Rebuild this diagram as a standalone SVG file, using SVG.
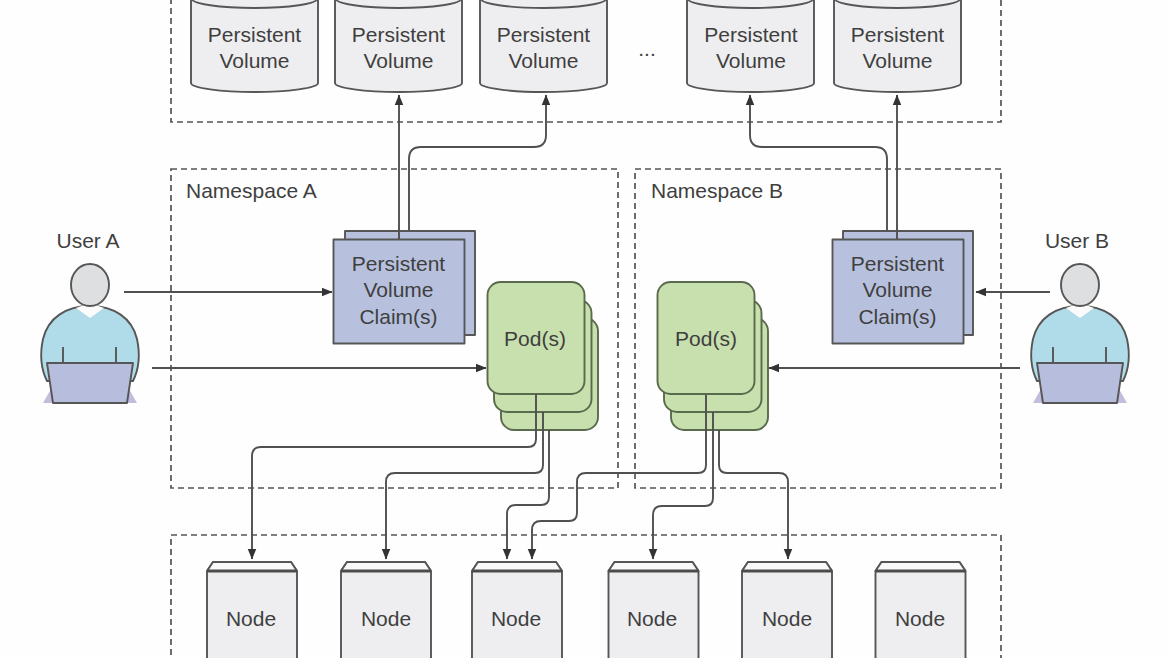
<svg xmlns="http://www.w3.org/2000/svg" width="1168" height="658" viewBox="0 0 1168 658">
<style>
text{font-family:"Liberation Sans",Arial,sans-serif;font-size:21px;fill:#3f3f3f;text-anchor:middle}
.l{text-anchor:start}
.bound{fill:none;stroke:#555;stroke-width:1.7;stroke-dasharray:6 4}
.s{stroke:#565656;stroke-width:1.9;stroke-linejoin:round}
.gray{fill:#eeeef0}
.blue{fill:#b7c1de}
.green{fill:#c8dfae;stroke:#5a6b4d}
.c{fill:none;stroke:#505050;stroke-width:1.9}
.head{fill:#dedfe0}
.body{fill:#b0dbe9}
.lap{fill:#b7bedd}
.sh{fill:#c5bbdd}
</style>
<defs>
<marker id="a" viewBox="0 0 10 10" refX="9.500" refY="5" markerWidth="11" markerHeight="11" markerUnits="userSpaceOnUse" orient="auto"><path d="M0 1 L10 5 L0 9 Z" fill="#333"/></marker>
<g id="cyl"><path class="s gray" d="M0 -12 V83 C0 88 30 92 63.500 92 C97 92 127 88 127 83 V-12 Z"/><path class="s" fill="none" d="M0 -2 C0 4 30 8 63.500 8 C97 8 127 4 127 -2"/></g>
<g id="node"><path class="s gray" d="M0 10 L6 1 H84 L90 10 V110 H0 Z"/><path class="s" fill="#f9f9fa" d="M0 10 L6 1 H84 L90 10 Z"/><path d="M0 10 H90" fill="none" stroke="#4c4c4c" stroke-width="2.800"/></g>
<g id="user">
<path class="sh" d="M1 118 L9 104 H87 L95 118 L85 118 H11 Z" transform="translate(0 0)"/>
<path class="s body" d="M5 96 C-2 82 -2 68 1 54 C6 33 24 21 48 21 C72 21 90 33 95 54 C98 68 98 82 91 96 Z"/>
<path fill="#fbfbfb" d="M34 23 L48 33 L62 23 L54 20 H42 Z"/>
<ellipse class="s head" cx="48" cy="0" rx="19" ry="21"/>
<path class="s" fill="none" d="M21 62 V78 M74 62 V78"/>
<path class="s lap" d="M5 78 H91 L85 118 H11 Z"/>
</g>
</defs>
<rect width="1168" height="658" fill="#fefefe"/>
<rect id="pv-boundary" class="bound" x="171" y="-20" width="830" height="142"/>
<rect id="ns-a" class="bound" x="171" y="169" width="447" height="319"/>
<rect id="ns-b" class="bound" x="635" y="169" width="366" height="319"/>
<rect id="node-boundary" class="bound" x="171" y="535" width="830" height="150"/>
<g id="label-ns"><text class="l" x="186" y="198">Namespace A</text><text class="l" x="651" y="198">Namespace B</text></g>

<g id="pv1"><use href="#cyl" x="191"/><text x="254.500" y="42">Persistent</text><text x="254.500" y="68">Volume</text></g>
<g id="pv2"><use href="#cyl" x="335"/><text x="398.500" y="42">Persistent</text><text x="398.500" y="68">Volume</text></g>
<g id="pv3"><use href="#cyl" x="480"/><text x="543.500" y="42">Persistent</text><text x="543.500" y="68">Volume</text></g>
<g id="pv-more"><text x="647" y="56">...</text></g>
<g id="pv4"><use href="#cyl" x="687"/><text x="751" y="42">Persistent</text><text x="751" y="68">Volume</text></g>
<g id="pv5"><use href="#cyl" x="834"/><text x="897.500" y="42">Persistent</text><text x="897.500" y="68">Volume</text></g>

<g id="user-a"><text x="88" y="248">User A</text><use href="#user" x="42" y="285"/></g>
<g id="user-b"><text x="1077" y="248">User B</text><use href="#user" x="1032" y="285"/></g>

<g id="pvc-a"><rect class="s blue" x="345" y="231" width="130" height="104"/><rect class="s blue" x="333.500" y="239.500" width="131" height="104"/><text x="398.500" y="271">Persistent</text><text x="398.500" y="297">Volume</text><text x="398.500" y="324">Claim(s)</text></g>
<g id="pvc-b"><rect class="s blue" x="843" y="231" width="130" height="104"/><rect class="s blue" x="832.500" y="239.500" width="131" height="104"/><text x="897.500" y="271">Persistent</text><text x="897.500" y="297">Volume</text><text x="897.500" y="324">Claim(s)</text></g>

<g id="pods-a"><rect class="s green" x="501" y="318" width="97" height="112" rx="13"/><rect class="s green" x="494" y="300" width="97.500" height="112" rx="13"/><rect class="s green" x="487.500" y="282" width="97" height="112" rx="13"/><text x="535" y="346">Pod(s)</text></g>
<g id="pods-b"><rect class="s green" x="671" y="318" width="97" height="112" rx="13"/><rect class="s green" x="664" y="300" width="97.500" height="112" rx="13"/><rect class="s green" x="657.500" y="282" width="97" height="112" rx="13"/><text x="706" y="346">Pod(s)</text></g>

<g id="n1"><use href="#node" x="207" y="561"/><text x="251" y="626">Node</text></g>
<g id="n2"><use href="#node" x="341" y="561"/><text x="386" y="626">Node</text></g>
<g id="n3"><use href="#node" x="472" y="561"/><text x="516" y="626">Node</text></g>
<g id="n4"><use href="#node" x="608.500" y="561"/><text x="652" y="626">Node</text></g>
<g id="n5"><use href="#node" x="742" y="561"/><text x="787" y="626">Node</text></g>
<g id="n6"><use href="#node" x="875.500" y="561"/><text x="920" y="626">Node</text></g>

<g id="connectors">
<path class="c" marker-end="url(#a)" d="M399 239 V95"/>
<path class="c" marker-end="url(#a)" d="M409 231 V159 Q409 147 421 147 H534 Q546 147 546 135 V95"/>
<path class="c" marker-end="url(#a)" d="M897 239 V95"/>
<path class="c" marker-end="url(#a)" d="M887 231 V159 Q887 147 875 147 H762 Q750 147 750 135 V95"/>
<path class="c" marker-end="url(#a)" d="M124 292 H332"/>
<path class="c" marker-end="url(#a)" d="M152 368 H486"/>
<path class="c" marker-end="url(#a)" d="M1050 292 H976"/>
<path class="c" marker-end="url(#a)" d="M1020 368 H769"/>
<path class="c" marker-end="url(#a)" d="M536 394 V439 Q536 447 528 447 H261 Q252 447 252 456 V559"/>
<path class="c" marker-end="url(#a)" d="M543 412 V465 Q543 473 535 473 H395 Q386 473 386 482 V559"/>
<path class="c" marker-end="url(#a)" d="M549 430 V497 Q549 505 541 505 H516 Q507 505 507 514 V559"/>
<path class="c" marker-end="url(#a)" d="M706 395 V465 Q706 473 698 473 H586 Q577 473 577 482 V513 Q577 521 569 521 H541 Q532 521 532 530 V559"/>
<path class="c" marker-end="url(#a)" d="M713 412 V498 Q713 506 705 506 H662 Q653 506 653 515 V559"/>
<path class="c" marker-end="url(#a)" d="M719 430 V465 Q719 473 727 473 H779 Q788 473 788 482 V559"/>
</g>
</svg>
